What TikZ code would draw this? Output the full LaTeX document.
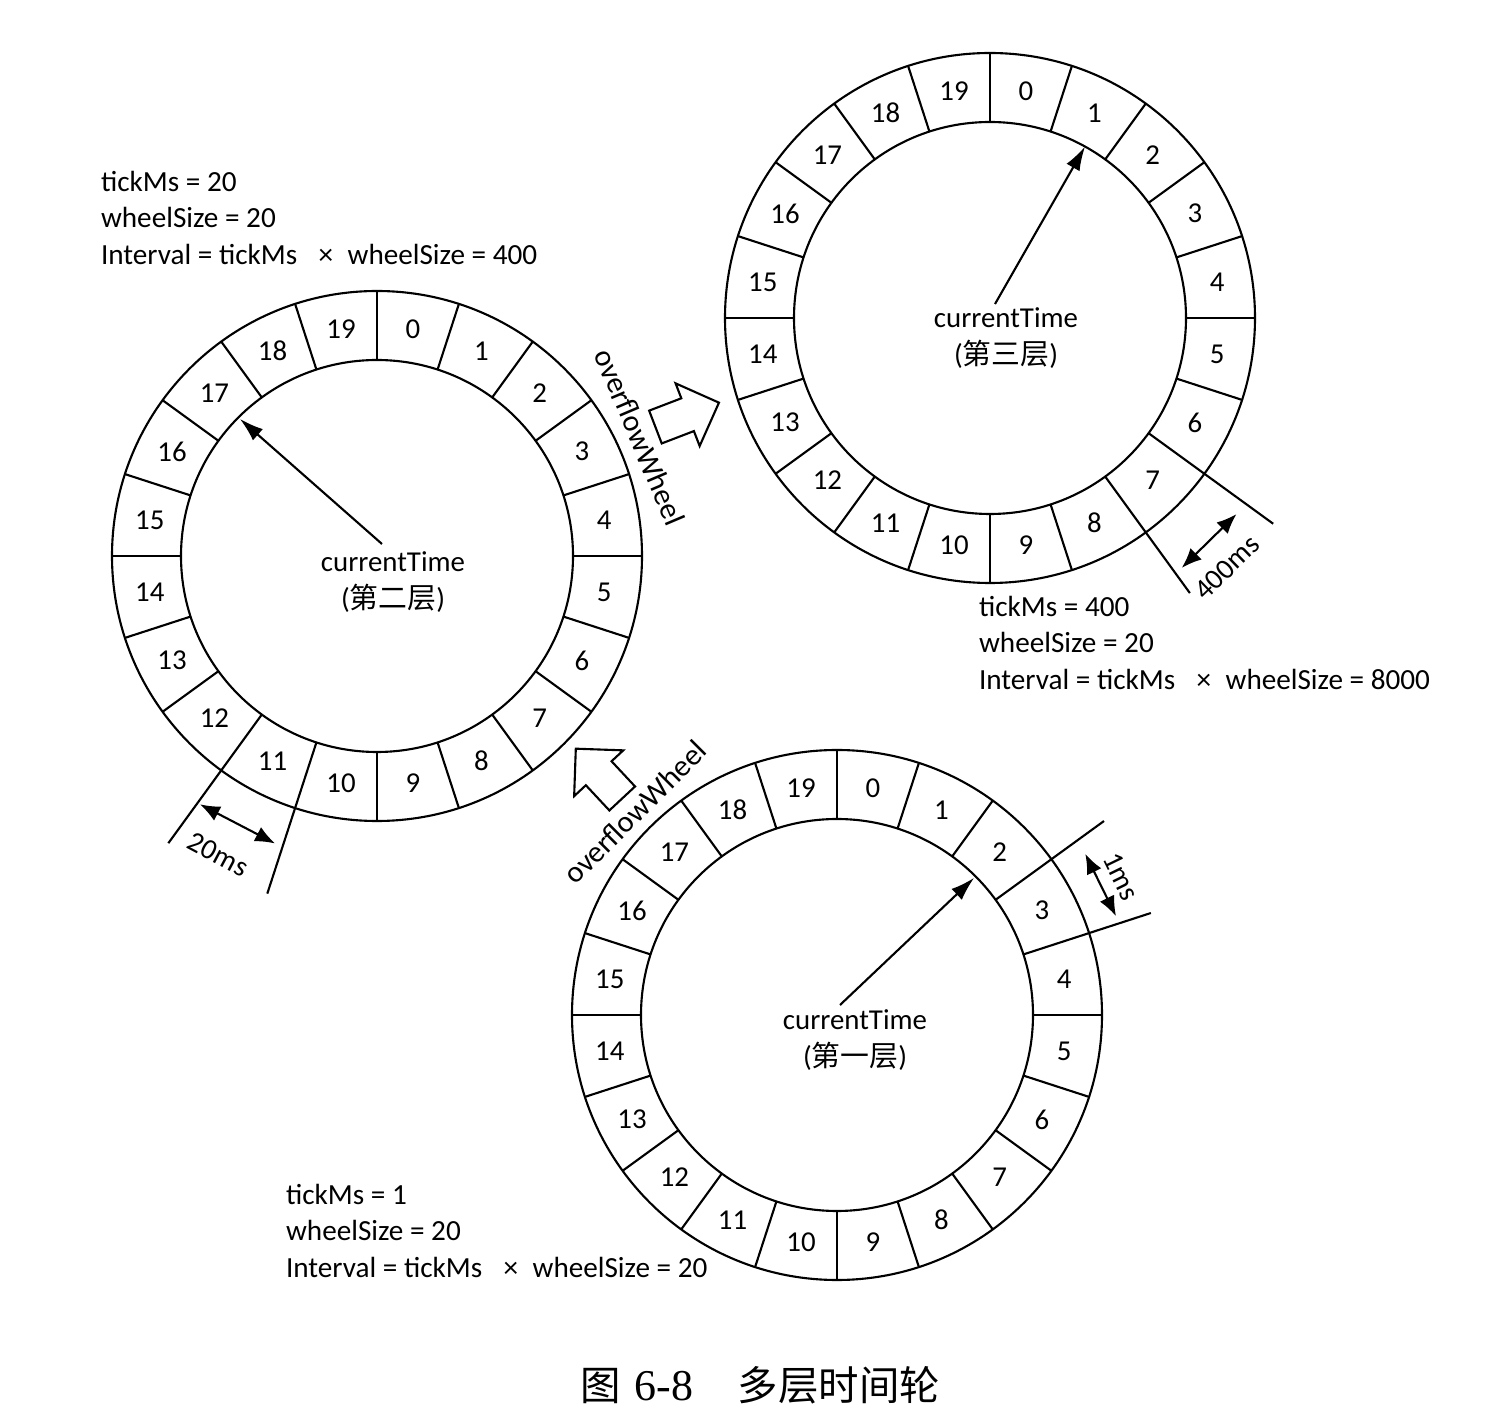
\documentclass[tikz,border=0pt]{standalone}
\usepackage{fontspec}
\setmainfont{Carlito}
\newfontfamily\cjk{Noto Sans CJK SC}
\newfontfamily\capserif{Liberation Serif}
\usetikzlibrary{arrows.meta,shapes.arrows}

\begin{document}
\begin{tikzpicture}[
  x=0.01cm, y=0.01cm,
  line width=0.6pt,
  slot/.style = {inner sep=0pt, font=\fontsize{8.2}{9}\selectfont},
  info/.style = {anchor=north west, align=left, inner sep=0pt,
    font=\fontsize{8.3}{10.4}\selectfont},
  now/.style = {align=center, inner sep=0pt, font=\fontsize{8.2}{10.5}\selectfont},
  gap/.style = {inner sep=0pt, font=\fontsize{8.2}{9}\selectfont},
  hand/.style = {-{Latex[length=2.4mm,width=1.5mm]}},
  span/.style = {{Latex[length=2mm,width=1.6mm]}-{Latex[length=2mm,width=1.6mm]}},
  overflow/.style = {draw, single arrow, single arrow head extend=1.6mm,
    inner xsep=0pt, inner ysep=1.65mm, minimum height=6.8mm},
  ovlabel/.style = {inner sep=0pt, font=\fontsize{8.6}{10}\selectfont}
]

\useasboundingbox (0,0) rectangle (1508,1408);

% the three wheels, slot 0 starts at the top
\foreach \w/\cx/\cy in {1/837/393, 2/377/852, 3/990/1090} {
  \begin{scope}[shift={(\cx,\cy)}]
    \coordinate (c\w) at (0,0);
    \draw (0,0) circle (265);
    \draw (0,0) circle (196);
    \foreach \i in {0,...,19} {
      \draw (90-18*\i:196) -- (90-18*\i:265);
      \node[slot] (w\w-\i) at (81-18*\i:230) {\i};
    }
  \end{scope}
}

% currentTime labels
\node[now] (w1now) at ([shift={(18,-25)}]c1) {currentTime\\({\cjk 第一层})};
\node[now] (w2now) at ([shift={(16,-26)}]c2) {currentTime\\({\cjk 第二层})};
\node[now] (w3now) at ([shift={(16,-20)}]c3) {currentTime\\({\cjk 第三层})};

% hands
\coordinate (w1hub) at ([shift={(3,10)}]c1);
\coordinate (w1tip) at ([shift={(45:194)}]c1);
\coordinate (w2hub) at ([shift={(5,12)}]c2);
\coordinate (w2tip) at ([shift={(135:194)}]c2);
\coordinate (w3hub) at ([shift={(5,14)}]c3);
\coordinate (w3tip) at ([shift={(61:196)}]c3);
\draw[hand] (w1hub) -- (w1tip);
\draw[hand] (w2hub) -- (w2tip);
\draw[hand] (w3hub) -- (w3tip);

% tick widths
\begin{scope}[shift={(c1)}]
  \draw (36:265) -- (36:330);
  \draw (18:265) -- (18:330);
  \draw[span] (33:296) -- (19.5:296);
  \node[gap, rotate=-64] (w1gap) at (26:316) {1ms};
\end{scope}
\begin{scope}[shift={(c2)}]
  \draw (-126:265) -- (-126:355);
  \draw (-108:265) -- (-108:355);
  \draw[span] (-125.5:305) -- (-109.5:305);
  \node[gap, rotate=-28] (w2gap) at (-118:338) {20ms};
\end{scope}
\begin{scope}[shift={(c3)}]
  \draw (-36:265) -- (-36:350);
  \draw (-54:265) -- (-54:340);
  \draw[span] (-52.5:315) -- (-38.5:315);
  \node[gap, rotate=44] (w3gap) at (-46.5:344) {400ms};
\end{scope}

% settings of each wheel
\node[info] (w2info) at (100,1238) {tickMs = 20\\wheelSize = 20\\Interval = tickMs \enspace×\enspace wheelSize = 400};
\node[info] (w3info) at (978,813) {tickMs = 400\\wheelSize = 20\\Interval = tickMs \enspace×\enspace wheelSize = 8000};
\node[info] (w1info) at (285,225) {tickMs = 1\\wheelSize = 20\\Interval = tickMs \enspace×\enspace wheelSize = 20};

% overflow arrows
\node[overflow, rotate=21] (up23) at (679,990) {};
\node[ovlabel, rotate=-67] (ovf23) at (640,971) {overflowWheel};
\node[overflow, rotate=133] (up12) at (605,628) {};
\node[ovlabel, rotate=45] (ovf12) at (635,596) {overflowWheel};

\node[font=\fontsize{11.5}{12}\selectfont] (caption) at (760,23)
  {{\cjk 图}\hspace{0.35em}{\capserif\fontsize{12.5}{13}\selectfont 6-8}\hspace{1.1em}{\cjk 多层时间轮}};

\end{tikzpicture}
\end{document}
